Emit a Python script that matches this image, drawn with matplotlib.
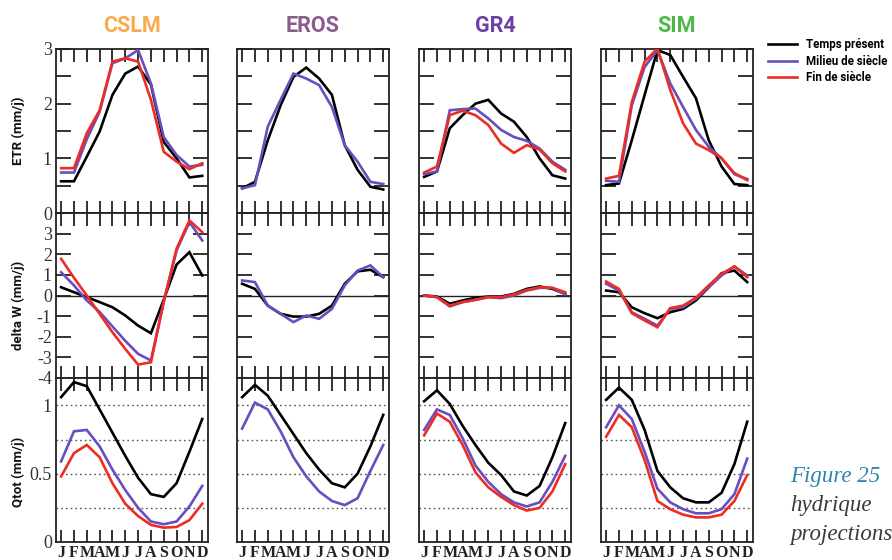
import matplotlib
matplotlib.use("Agg")
import matplotlib.pyplot as plt
from matplotlib.lines import Line2D

months = ["J", "F", "M", "A", "M", "J", "J", "A", "S", "O", "N", "D"]
models = ["CSLM", "EROS", "GR4", "SIM"]
model_colors = ["#F8AA4C", "#8C5B8E", "#6E40A4", "#4DB848"]
scenarios = ["Temps présent", "Milieu de siècle", "Fin de siècle"]
scen_colors = ["#000000", "#6A4DBF", "#EC2D24"]
row_labels = ["ETR (mm/j)", "delta W (mm/j)", "Qtot (mm/j)"]

# ---- ETR (mm/j) ----
cslm_etr_tp = [0.58, 0.58, 1.03, 1.49, 2.16, 2.55, 2.68, 2.35, 1.30, 1.00, 0.65, 0.68]
cslm_etr_ms = [0.74, 0.74, 1.35, 1.85, 2.74, 2.83, 2.98, 2.37, 1.39, 1.06, 0.85, 0.88]
cslm_etr_fs = [0.82, 0.82, 1.46, 1.88, 2.77, 2.83, 2.77, 2.07, 1.12, 0.94, 0.80, 0.91]
eros_etr_tp = [0.45, 0.57, 1.33, 1.97, 2.49, 2.66, 2.46, 2.16, 1.24, 0.79, 0.48, 0.43]
eros_etr_ms = [0.45, 0.51, 1.58, 2.07, 2.55, 2.46, 2.34, 1.94, 1.24, 0.94, 0.57, 0.53]
gr4_etr_tp = [0.66, 0.76, 1.55, 1.79, 2.00, 2.07, 1.82, 1.67, 1.39, 1.00, 0.69, 0.63]
gr4_etr_ms = [0.71, 0.76, 1.88, 1.90, 1.91, 1.73, 1.52, 1.39, 1.32, 1.18, 0.94, 0.79]
gr4_etr_fs = [0.74, 0.85, 1.79, 1.87, 1.79, 1.61, 1.27, 1.10, 1.24, 1.16, 0.91, 0.76]
sim_etr_tp = [0.51, 0.54, 1.33, 2.16, 2.98, 2.89, 2.49, 2.10, 1.33, 0.85, 0.53, 0.51]
sim_etr_ms = [0.59, 0.57, 1.97, 2.67, 2.98, 2.37, 1.94, 1.52, 1.21, 1.00, 0.71, 0.62]
sim_etr_fs = [0.63, 0.68, 2.03, 2.77, 3.01, 2.25, 1.64, 1.27, 1.15, 1.00, 0.73, 0.60]

# ---- delta W (mm/j) ----
cslm_dw_tp = [0.40, 0.16, -0.08, -0.32, -0.57, -0.97, -1.46, -1.83, -0.20, 1.50, 2.10, 0.97]
cslm_dw_ms = [1.13, 0.49, -0.24, -0.80, -1.50, -2.20, -2.83, -3.15, -0.30, 2.18, 3.56, 2.67]
cslm_dw_fs = [1.78, 0.86, 0.00, -0.89, -1.78, -2.59, -3.35, -3.24, -0.30, 2.27, 3.64, 3.07]
eros_dw_tp = [0.57, 0.32, -0.49, -0.89, -1.02, -1.02, -0.89, -0.49, 0.57, 1.17, 1.25, 0.89]
eros_dw_ms = [0.73, 0.65, -0.49, -0.89, -1.29, -0.97, -1.13, -0.65, 0.49, 1.21, 1.46, 0.89]
gr4_dw_tp = [0.00, -0.05, -0.40, -0.24, -0.11, -0.05, -0.05, 0.08, 0.32, 0.44, 0.32, 0.08]
gr4_dw_ms = [0.00, -0.08, -0.53, -0.32, -0.21, -0.08, -0.13, 0.00, 0.24, 0.37, 0.37, 0.05]
gr4_dw_fs = [0.00, -0.08, -0.49, -0.32, -0.21, -0.08, -0.08, 0.05, 0.27, 0.40, 0.37, 0.16]
sim_dw_tp = [0.24, 0.16, -0.57, -0.86, -1.10, -0.81, -0.65, -0.24, 0.40, 1.08, 1.21, 0.65]
sim_dw_ms = [0.57, 0.24, -0.81, -1.13, -1.46, -0.65, -0.57, -0.16, 0.40, 0.97, 1.41, 0.97]
sim_dw_fs = [0.68, 0.32, -0.86, -1.21, -1.54, -0.61, -0.49, -0.11, 0.49, 1.05, 1.41, 0.89]

# ---- Qtot (mm/j) ----
cslm_q_tp = [1.06, 1.17, 1.14, 0.97, 0.80, 0.63, 0.47, 0.35, 0.33, 0.43, 0.66, 0.90]
cslm_q_ms = [0.59, 0.81, 0.82, 0.70, 0.53, 0.38, 0.25, 0.15, 0.13, 0.15, 0.26, 0.41]
cslm_q_fs = [0.48, 0.65, 0.71, 0.62, 0.43, 0.28, 0.19, 0.125, 0.105, 0.11, 0.16, 0.28]
eros_q_tp = [1.06, 1.15, 1.07, 0.93, 0.79, 0.65, 0.53, 0.43, 0.40, 0.50, 0.70, 0.93]
eros_q_ms = [0.83, 1.02, 0.97, 0.81, 0.62, 0.48, 0.37, 0.30, 0.27, 0.32, 0.52, 0.71]
gr4_q_tp = [1.03, 1.11, 1.01, 0.85, 0.71, 0.58, 0.49, 0.37, 0.34, 0.41, 0.62, 0.87]
gr4_q_ms = [0.82, 0.97, 0.93, 0.76, 0.56, 0.44, 0.35, 0.29, 0.26, 0.29, 0.44, 0.63]
gr4_q_fs = [0.78, 0.94, 0.88, 0.71, 0.51, 0.40, 0.33, 0.27, 0.23, 0.25, 0.37, 0.57]
sim_q_tp = [1.04, 1.13, 1.04, 0.82, 0.52, 0.40, 0.32, 0.29, 0.29, 0.36, 0.57, 0.88]
sim_q_ms = [0.84, 1.00, 0.90, 0.66, 0.39, 0.29, 0.24, 0.21, 0.21, 0.24, 0.35, 0.61]
sim_q_fs = [0.77, 0.93, 0.84, 0.60, 0.30, 0.24, 0.20, 0.18, 0.18, 0.20, 0.30, 0.49]

data = {
    "CSLM": [[cslm_etr_tp, cslm_etr_ms, cslm_etr_fs],
             [cslm_dw_tp, cslm_dw_ms, cslm_dw_fs],
             [cslm_q_tp, cslm_q_ms, cslm_q_fs]],
    "EROS": [[eros_etr_tp, eros_etr_ms, None],
             [eros_dw_tp, eros_dw_ms, None],
             [eros_q_tp, eros_q_ms, None]],
    "GR4": [[gr4_etr_tp, gr4_etr_ms, gr4_etr_fs],
            [gr4_dw_tp, gr4_dw_ms, gr4_dw_fs],
            [gr4_q_tp, gr4_q_ms, gr4_q_fs]],
    "SIM": [[sim_etr_tp, sim_etr_ms, sim_etr_fs],
            [sim_dw_tp, sim_dw_ms, sim_dw_fs],
            [sim_q_tp, sim_q_ms, sim_q_fs]],
}

W, H = 892, 560
fig = plt.figure(figsize=(W / 100, H / 100), dpi=100)
fig.patch.set_facecolor("white")

lefts = [56, 237, 419, 601]
pw = 152
rows = [(49, 213), (213, 378), (378, 542)]
ylims = [(0, 3), (-4, 4), (0, 1.2)]
yticks = [[0, 0.5, 1, 1.5, 2, 2.5, 3],
          [-4, -3, -2, -1, 0, 1, 2, 3, 4],
          [0, 0.5, 1]]
yticklabels = [["0", "", "1", "", "2", "", "3"],
               ["-4", "-3", "-2", "-1", "0", "1", "2", "3", ""],
               ["0", "0.5", "1"]]

serif = "Liberation Serif"
sans = "Roboto"
ink = "#222222"
x = list(range(12))

for c, model in enumerate(models):
    for r in range(3):
        top, bot = rows[r]
        ax = fig.add_axes([lefts[c] / W, 1 - bot / H, pw / W, (bot - top) / H])
        for s in range(3):
            vals = data[model][r][s]
            if vals is None:
                continue
            ax.plot(x, vals, color=scen_colors[s], lw=1.9, solid_joinstyle="miter", zorder=3 + s)
        ax.set_xlim(-0.4, 11.45)
        ax.set_ylim(*ylims[r])
        for sp in ax.spines.values():
            sp.set_linewidth(1.3)
            sp.set_color(ink)
        ax.set_xticks(x)
        ax.tick_params(axis="x", direction="in", length=9, width=1.3, color=ink,
                       top=True, bottom=True)
        if r == 2:
            ax.set_xticklabels(months, fontfamily=serif, fontweight="bold", fontsize=11.5, color=ink)
            ax.tick_params(axis="x", pad=2.5)
        else:
            ax.set_xticklabels([])
        ax.set_yticks(yticks[r])
        if r == 2:
            ax.tick_params(axis="y", length=0, left=True, right=False)
            for v in [0.25, 0.5, 0.75, 1.0]:
                ax.axhline(v, color="#555555", lw=1.0, ls=(0, (1.2, 2.2)), zorder=1)
        else:
            ax.tick_params(axis="y", direction="in", length=11, width=1.3, color=ink,
                           left=True, right=True)
        if r == 1:
            ax.axhline(0, color=ink, lw=1.0, zorder=2)
        if c == 0:
            ax.set_yticklabels(yticklabels[r], fontfamily=serif, fontsize=13, color="#333333")
            ax.tick_params(axis="y", pad=3)
        else:
            ax.set_yticklabels([])
        if r == 0:
            ax.set_title(model, color=model_colors[c], fontfamily=sans, fontweight="bold",
                         fontsize=15.5, pad=12)

# row labels
label_y = [131, 305, 472]
for r in range(3):
    fig.text(18 / W, 1 - label_y[r] / H, row_labels[r], rotation=90, ha="center", va="center",
             fontfamily=sans, fontweight="bold", fontsize=9.5, color="#111111")

# legend
handles = [Line2D([], [], color=scen_colors[s], lw=1.9) for s in range(3)]
fig.legend(handles, scenarios, loc="upper left", bbox_to_anchor=(768 / W, 1 - 38 / H),
           frameon=False, prop={"family": sans, "weight": "bold", "size": 8.3},
           handlelength=2.5, handletextpad=0.8, labelspacing=0.32, borderpad=0,
           borderaxespad=0)

# caption fragment
fig.text(790 / W, 1 - 482 / H, "Figure 25", fontfamily=serif, fontstyle="italic",
         fontsize=16.5, color="#2A86B0", va="baseline")
fig.text(790 / W, 1 - 511 / H, "hydrique", fontfamily=serif, fontstyle="italic",
         fontsize=16.5, color="#3A3A3A", va="baseline")
fig.text(790 / W, 1 - 540 / H, "projections", fontfamily=serif, fontstyle="italic",
         fontsize=16.5, color="#3A3A3A", va="baseline")

fig.savefig("out.png", dpi=100, facecolor="white")
